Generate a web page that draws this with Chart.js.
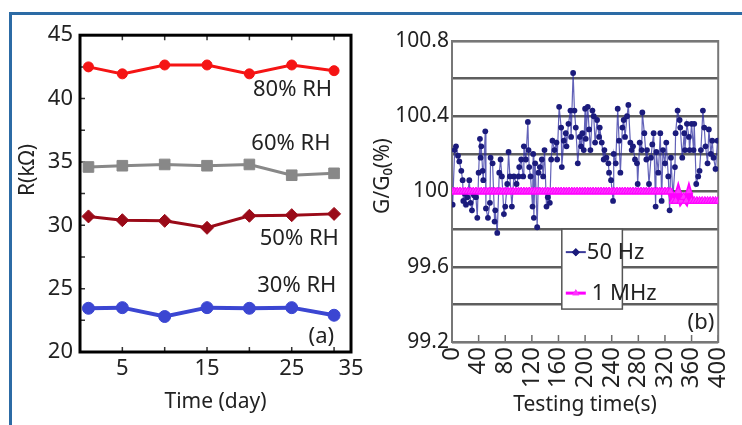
<!DOCTYPE html>
<html>
<head>
<meta charset="utf-8">
<title>Resistance and conductance stability</title>
<script src="https://cdn.jsdelivr.net/npm/chart.js@4.4.1/dist/chart.umd.min.js"></script>
<style>
  html, body { margin: 0; padding: 0; background: #fff; }
  body { width: 742px; height: 425px; position: relative; overflow: hidden; }
  .frame {
    position: absolute; left: 9px; top: 12px; width: 780px; height: 460px;
    border-top: 3px solid #2c6ba5; border-left: 3px solid #2c6ba5;
  }
  #chartA { position: absolute; left: 12px; top: 15px; }
  #chartB { position: absolute; left: 372px; top: 15px; }
</style>
</head>
<body>
<div class="frame"></div>
<canvas id="chartA" width="360" height="410"></canvas>
<canvas id="chartB" width="380" height="410"></canvas>
<script>
// ---- panel (a): resistance vs. time at four humidity levels ----
const days = [1, 5, 10, 15, 20, 25, 30];
const r80 = [42.5, 41.95, 42.65, 42.65, 41.95, 42.65, 42.2];
const r60 = [34.6, 34.7, 34.8, 34.7, 34.8, 33.95, 34.1];
const r50 = [30.7, 30.4, 30.35, 29.8, 30.75, 30.8, 30.9];
const r30 = [23.45, 23.5, 22.8, 23.5, 23.45, 23.5, 22.9];

const dayTickValues = [5, 15, 25, 32];
const dayTickLabels = ['5', '15', '25', '35'];
const dayMinorTicks = [5, 10, 15, 20, 25, 30];
const rTicks = [20, 25, 30, 35, 40, 45];
const rMinorTicks = [22.5, 25, 27.5, 30, 32.5, 35, 37.5, 40, 42.5];

// ---- panel (b): normalised conductance over the test run ----
const time50 = [
  1, 4, 6, 9, 11, 14, 16, 17, 19, 21, 23, 26, 28, 30, 33, 36, 38, 40, 42, 43,
  44, 46, 47, 50, 51, 54, 57, 58, 61, 64, 65, 68, 71, 73, 75, 78, 80, 83, 85, 87,
  90, 93, 97, 100, 101, 104, 107, 108, 111, 114, 115, 116, 118, 121, 122, 123, 125, 128, 130, 132,
  135, 137, 139, 142, 144, 147, 149, 151, 154, 157, 158, 161, 164, 165, 168, 171, 172, 175, 178, 179,
  182, 184, 186, 189, 192, 194, 196, 198, 200, 201, 204, 206, 208, 211, 213, 215, 218, 221, 222, 225,
  228, 229, 232, 235, 236, 239, 242, 243, 246, 249, 251, 253, 256, 258, 260, 263, 265, 268, 270, 272,
  275, 278, 279, 282, 285, 286, 289, 292, 293, 296, 299, 301, 303, 306, 307, 310, 313, 315, 317, 320,
  322, 325, 327, 329, 332, 335, 336, 339, 342, 343, 346, 349, 350, 353, 356, 357, 360, 363, 364, 367,
  370, 372, 374, 377, 379, 381, 384, 386, 389, 391, 393, 396, 399
];
const g50 = [
  99.93, 100.22, 100.24, 100.19, 100.16, 100.11, 100.06, 99.95, 99.99, 99.93, 99.97, 100.06, 99.94, 99.90, 99.98, 99.97, 99.86, 100.10, 100.28, 100.18,
  100.24, 100.11, 100.06, 100.32, 99.91, 99.86, 99.94, 100.18, 100.15, 99.84, 99.90, 99.78, 100.10, 100.17, 100.08, 99.88, 99.92, 100.04, 100.21, 100.08,
  99.92, 100.08, 100.04, 100.08, 100.13, 100.17, 100.08, 100.24, 100.17, 100.37, 100.22, 100.13, 100.08, 99.92, 100.20, 99.86, 100.15, 99.81, 100.10, 100.13,
  100.17, 100.08, 100.22, 99.92, 99.97, 99.94, 100.17, 100.27, 100.22, 100.26, 100.17, 100.45, 100.34, 100.13, 100.27, 100.31, 100.24, 100.36, 100.43, 100.29,
  100.63, 100.43, 100.34, 100.15, 100.29, 100.24, 100.31, 100.22, 100.44, 100.28, 100.45, 100.33, 100.22, 100.43, 100.40, 100.26, 100.38, 100.29, 100.34, 100.26,
  100.17, 100.22, 100.18, 100.15, 100.10, 100.06, 99.95, 100.20, 100.15, 100.44, 100.27, 100.10, 100.34, 100.38, 100.29, 100.40, 100.46, 100.26, 100.22, 100.24,
  100.17, 100.15, 100.04, 100.26, 100.22, 100.42, 100.31, 100.17, 100.22, 100.04, 100.18, 100.25, 100.31, 99.92, 100.21, 100.10, 100.31, 99.95, 100.22, 100.15,
  100.26, 100.08, 99.90, 100.18, 99.97, 100.13, 100.31, 100.43, 100.38, 100.34, 100.18, 100.31, 100.22, 100.36, 100.29, 100.22, 100.36, 100.22, 100.36, 100.04,
  100.08, 100.11, 100.22, 100.43, 100.34, 100.24, 100.15, 100.33, 100.20, 100.27, 100.18, 100.12, 100.27
];
const time1M = [
  0, 4, 8, 12, 16, 20, 24, 28, 32, 36, 40, 44, 48, 52, 56, 60, 64, 68, 72, 76,
  80, 84, 88, 92, 96, 100, 104, 108, 112, 116, 120, 124, 128, 132, 136, 140, 144, 148, 152, 156,
  160, 164, 168, 172, 176, 180, 184, 188, 192, 196, 200, 204, 208, 212, 216, 220, 224, 228, 232, 236,
  240, 244, 248, 252, 256, 260, 264, 268, 272, 276, 280, 284, 288, 292, 296, 300, 304, 308, 312, 316,
  320, 324, 328, 332, 336, 340, 344, 348, 352, 356, 360, 364, 368, 372, 376, 380, 384, 388, 392, 396,
  400
];
const g1M = [
  100, 100, 100, 100, 100, 100, 100, 100, 100, 100, 100, 100, 100, 100, 100, 100, 100, 100, 100, 100,
  100, 100, 100, 100, 100, 100, 100, 100, 100, 100, 100, 100, 100, 100, 100, 100, 100, 100, 100, 100,
  100, 100, 100, 100, 100, 100, 100, 100, 100, 100, 100, 100, 100, 100, 100, 100, 100, 100, 100, 100,
  100, 100, 100, 100, 100, 100, 100, 100, 100, 100, 100, 100, 100, 100, 100, 100, 100, 100, 100, 100,
  100, 100, 100, 99.95, 99.95, 100, 99.95, 99.97, 99.95, 100, 99.95, 99.95, 99.95, 99.95, 99.95, 99.95, 99.95, 99.95, 99.95, 99.95,
  99.95
];
const gGridValues = [99.2, 99.4, 99.6, 99.8, 100, 100.2, 100.4, 100.6, 100.8];
const gTickLabels = ['99.2', '', '99.6', '', '100', '', '100.4', '', '100.8'];

const FONT = "'Noto Sans', 'Open Sans', sans-serif";
const INK = '#222';

const pair = (xs, ys) => ys.map((y, i) => ({ x: xs[i], y }));

// rotated y-axis title, drawn by hand so it can sit off-centre
const yTitle = {
  id: 'yTitle',
  afterDraw(chart, args, opts) {
    const ctx = chart.ctx;
    ctx.save();
    ctx.translate(opts.x, opts.y);
    ctx.rotate(-Math.PI / 2);
    ctx.fillStyle = INK;
    ctx.font = `21px ${FONT}`;
    ctx.textAlign = 'center';
    ctx.textBaseline = 'middle';
    ctx.fillText(opts.text, 0, 0);
    ctx.restore();
  }
};

// black box with inward tick marks for panel (a)
const frameA = {
  id: 'frameA',
  beforeDatasetsDraw(chart) {
    const { ctx, chartArea: a, scales: { x, y } } = chart;
    ctx.save();
    ctx.strokeStyle = '#333';
    ctx.lineWidth = 1.5;
    ctx.beginPath();
    dayMinorTicks.forEach(d => {
      const px = x.getPixelForValue(d);
      ctx.moveTo(px, a.top); ctx.lineTo(px, a.top + 5);
      ctx.moveTo(px, a.bottom); ctx.lineTo(px, a.bottom - 5);
    });
    rMinorTicks.forEach(r => {
      const py = y.getPixelForValue(r);
      ctx.moveTo(a.left, py); ctx.lineTo(a.left + 5, py);
    });
    ctx.stroke();
    ctx.strokeStyle = '#000';
    ctx.lineWidth = 3;
    ctx.strokeRect(a.left, a.top, a.right - a.left, a.bottom - a.top);
    ctx.restore();
  }
};

const rhNotes = [
  { text: '80% RH', day: 25.1, r: 40.7 },
  { text: '60% RH', day: 24.9, r: 36.45 },
  { text: '50% RH', day: 25.9, r: 28.95 },
  { text: '30% RH', day: 25.6, r: 25.25 },
  { text: '(a)', day: 28.5, r: 21.2 }
];

const notesA = {
  id: 'notesA',
  afterDatasetsDraw(chart) {
    const { ctx, scales: { x, y } } = chart;
    ctx.save();
    ctx.fillStyle = INK;
    ctx.font = `22px ${FONT}`;
    ctx.textAlign = 'center';
    ctx.textBaseline = 'middle';
    rhNotes.forEach(n => ctx.fillText(n.text, x.getPixelForValue(n.day), y.getPixelForValue(n.r)));
    ctx.restore();
  }
};

function rhSeries(label, values, color, style, radius, width) {
  return {
    label,
    data: pair(days, values),
    borderColor: color,
    backgroundColor: color,
    pointBackgroundColor: color,
    pointBorderColor: color,
    pointStyle: style,
    pointRadius: radius,
    pointBorderWidth: 1,
    borderWidth: width
  };
}

new Chart(document.getElementById('chartA'), {
  type: 'line',
  data: {
    datasets: [
      rhSeries('80% RH', r80, '#f51414', 'circle', 5, 3),
      rhSeries('60% RH', r60, '#888888', 'rect', 7.5, 3),
      rhSeries('50% RH', r50, '#9a0a18', 'rectRot', 6.5, 3),
      rhSeries('30% RH', r30, '#3b46d2', 'circle', 6, 4)
    ]
  },
  options: {
    responsive: false,
    animation: false,
    events: [],
    layout: { padding: { top: 18, right: 21, bottom: 0, left: 0 } },
    plugins: {
      legend: { display: false },
      tooltip: { enabled: false },
      yTitle: { text: 'R(kΩ)', x: 16, y: 155 }
    },
    scales: {
      x: {
        type: 'linear',
        min: 0,
        max: 32,
        afterBuildTicks: s => { s.ticks = dayTickValues.map(v => ({ value: v })); },
        afterFit: s => { s.height = 73; },
        grid: { display: false, drawTicks: false },
        border: { display: false },
        ticks: {
          autoSkip: false, maxRotation: 0, padding: 4, color: INK,
          font: { family: FONT, size: 22 },
          callback: (v, i) => dayTickLabels[i]
        },
        title: {
          display: true, text: 'Time (day)', color: INK,
          font: { family: FONT, size: 21 },
          padding: { top: 0, bottom: 10 }
        }
      },
      y: {
        min: 20,
        max: 45,
        afterBuildTicks: s => { s.ticks = rTicks.map(v => ({ value: v })); },
        afterFit: s => { s.width = 68; },
        grid: { display: false, drawTicks: false },
        border: { display: false },
        ticks: { padding: 7, color: INK, font: { family: FONT, size: 22 } }
      }
    }
  },
  plugins: [yTitle, frameA, notesA]
});

// panel (b): grey frame, inward ticks, boxed legend and panel tag
const legendBox = { fromTime: 165, toTime: 256, top: 99.8, bottom: 99.375 };

const decorB = {
  id: 'decorB',
  beforeDatasetsDraw(chart) {
    const { ctx, chartArea: a, scales: { x } } = chart;
    ctx.save();
    ctx.strokeStyle = '#6e6e6e';
    ctx.lineWidth = 1.5;
    ctx.beginPath();
    x.ticks.forEach(t => {
      const px = x.getPixelForValue(t.value);
      ctx.moveTo(px, a.bottom); ctx.lineTo(px, a.bottom - 7);
    });
    ctx.stroke();
    ctx.lineWidth = 2;
    ctx.strokeStyle = '#777';
    ctx.strokeRect(a.left, a.top, a.right - a.left, a.bottom - a.top);
    ctx.restore();
  },
  afterDatasetsDraw(chart) {
    const { ctx, scales: { x, y } } = chart;
    const l = x.getPixelForValue(legendBox.fromTime);
    const r = x.getPixelForValue(legendBox.toTime);
    const t = y.getPixelForValue(legendBox.top);
    const b = y.getPixelForValue(legendBox.bottom);
    ctx.save();
    ctx.fillStyle = '#fff';
    ctx.fillRect(l, t, r - l, b - t);
    ctx.strokeStyle = '#555';
    ctx.lineWidth = 1.5;
    ctx.strokeRect(l, t, r - l, b - t);

    const entries = chart.data.datasets.slice().sort((p, q) => q.order - p.order);
    ctx.font = `22px ${FONT}`;
    ctx.textBaseline = 'middle';
    ctx.textAlign = 'left';
    entries.forEach((ds, i) => {
      const cy = t + 23 + i * 41;
      ctx.strokeStyle = i === 0 ? '#3a3a9a' : ds.borderColor;
      ctx.lineWidth = i === 0 ? 2 : 3;
      ctx.beginPath();
      ctx.moveTo(l + 4, cy); ctx.lineTo(l + 24, cy);
      ctx.stroke();
      ctx.fillStyle = ds.pointBackgroundColor;
      Chart.helpers.drawPoint(ctx, { pointStyle: i === 0 ? 'rectRot' : 'triangle', radius: 4, borderWidth: 0 }, l + 14, cy);
      ctx.fill();
      ctx.fillStyle = INK;
      ctx.fillText(ds.label, l + (i === 0 ? 25 : 30), cy + 1);
    });

    ctx.textAlign = 'center';
    ctx.fillText('(b)', x.getPixelForValue(374), y.getPixelForValue(99.305));
    ctx.restore();
  }
};

new Chart(document.getElementById('chartB'), {
  type: 'line',
  data: {
    datasets: [
      {
        label: '50 Hz',
        order: 1,
        data: pair(time50, g50),
        borderColor: 'rgba(45, 45, 160, 0.75)',
        borderWidth: 1.2,
        pointRadius: 2.9,
        pointBorderWidth: 0,
        pointBackgroundColor: '#1b1b7c'
      },
      {
        label: '1 MHz',
        order: 0,
        data: pair(time1M, g1M),
        borderColor: '#ff00ff',
        borderWidth: 6,
        pointStyle: 'triangle',
        pointRadius: 4.5,
        pointBorderWidth: 1,
        pointBorderColor: '#ff00ff',
        pointBackgroundColor: '#ff33ff'
      }
    ]
  },
  options: {
    responsive: false,
    animation: false,
    events: [],
    layout: { padding: { top: 26, right: 19, bottom: 0, left: 0 } },
    plugins: {
      legend: { display: false },
      tooltip: { enabled: false },
      yTitle: { text: 'G/G₀(%)', x: 11, y: 161 }
    },
    scales: {
      x: {
        type: 'linear',
        min: 0,
        max: 400,
        afterFit: s => { s.height = 83; },
        grid: { display: false, drawTicks: false },
        border: { display: false },
        ticks: {
          stepSize: 40, autoSkip: false, minRotation: 90, maxRotation: 90,
          padding: 5, color: INK, font: { family: FONT, size: 24 }
        },
        title: {
          display: true, text: 'Testing time(s)', color: INK,
          font: { family: FONT, size: 21 },
          padding: { top: 0, bottom: 7 }
        }
      },
      y: {
        min: 99.2,
        max: 100.8,
        afterBuildTicks: s => { s.ticks = gGridValues.map(v => ({ value: v })); },
        afterFit: s => { s.width = 80; },
        grid: { color: '#5e5e5e', lineWidth: 2.5, drawTicks: false },
        border: { display: false },
        ticks: {
          padding: 3, color: INK, font: { family: FONT, size: 21 },
          callback: (v, i) => gTickLabels[i]
        }
      }
    }
  },
  plugins: [yTitle, decorB]
});
</script>
</body>
</html>
